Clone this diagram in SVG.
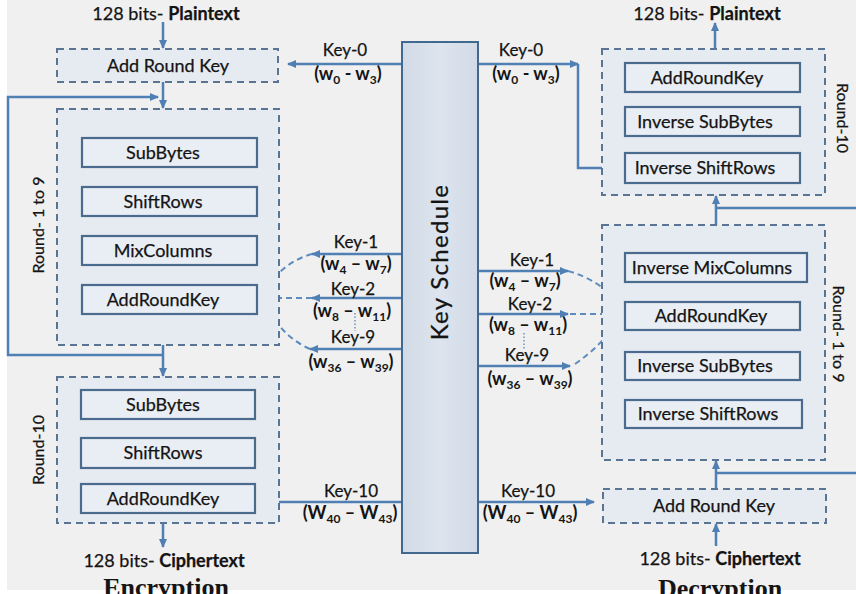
<svg xmlns="http://www.w3.org/2000/svg" width="856" height="594" viewBox="0 0 856 594">
<style>
.dbox{fill:#e6ebf1;stroke:#5a7493;stroke-width:2;stroke-dasharray:7 5}
.ibox{fill:#e9eef4;stroke:#4a6b8e;stroke-width:2.2}
.ln{stroke:#4f7fb3;stroke-width:2.5;fill:none}
.dl{stroke:#5d8bbd;stroke-width:2;stroke-dasharray:6 4;fill:none}
.dot{stroke:#6f93bb;stroke-width:1.5;stroke-dasharray:1.5 2;fill:none}
text{font-family:Lato,"Open Sans","Liberation Sans",sans-serif;fill:#141414;stroke:#141414;stroke-width:0.25}
.t{font-size:18px;text-anchor:middle}
.k{font-size:17px;text-anchor:middle}
.kw{font-size:18px;font-weight:bold;text-anchor:middle;stroke-width:0}
.sb{font-size:12px}
.b{font-weight:bold}
.r{font-size:16px;text-anchor:middle}
.cap{font-family:"Liberation Serif","Times New Roman",serif;font-size:26px;font-weight:bold;text-anchor:middle;stroke-width:0}
</style>
<defs>
<marker id="a" markerUnits="userSpaceOnUse" markerWidth="9" markerHeight="9" refX="8" refY="4.5" orient="auto"><path d="M0,0.5 L9,4.5 L0,8.5 z" fill="#4f7fb3"/></marker>
<marker id="ad" markerUnits="userSpaceOnUse" markerWidth="9" markerHeight="9" refX="8" refY="4.5" orient="auto"><path d="M0,0.5 L9,4.5 L0,8.5 z" fill="#5d8bbd"/></marker>
<linearGradient id="ks" x1="0" x2="1" y1="0" y2="0"><stop offset="0" stop-color="#d1dae6"/><stop offset="0.5" stop-color="#dde4ee"/><stop offset="1" stop-color="#d1dae6"/></linearGradient>
</defs>
<rect x="0" y="0" width="856" height="594" fill="#ffffff"/>
<rect x="7" y="0" width="849" height="590" fill="#f0f0f0"/>

<g id="connectors">
<line class="ln" x1="163" y1="22" x2="163" y2="48" marker-end="url(#a)"/>
<line class="ln" x1="163" y1="82" x2="163" y2="108" marker-end="url(#a)"/>
<polyline class="ln" points="163,355 8,355 8,97 158,97" marker-end="url(#a)"/>
<line class="ln" x1="163" y1="167" x2="163" y2="186" marker-end="url(#a)"/>
<line class="ln" x1="163" y1="216" x2="163" y2="235" marker-end="url(#a)"/>
<line class="ln" x1="163" y1="265" x2="163" y2="284" marker-end="url(#a)"/>
<line class="ln" x1="163" y1="345" x2="163" y2="376" marker-end="url(#a)"/>
<line class="ln" x1="163" y1="419" x2="163" y2="437" marker-end="url(#a)"/>
<line class="ln" x1="163" y1="468" x2="163" y2="483" marker-end="url(#a)"/>
<line class="ln" x1="163" y1="523" x2="163" y2="547" marker-end="url(#a)"/>

<line class="ln" x1="402" y1="64" x2="288" y2="64" marker-end="url(#a)"/>
<line class="ln" x1="402" y1="254" x2="312" y2="254" marker-end="url(#a)"/>
<path class="dl" d="M312,254 Q283,262 265,290" marker-end="url(#ad)"/>
<line class="ln" x1="402" y1="298" x2="312" y2="298" marker-end="url(#a)"/>
<path class="dl" d="M312,298 L265,298" marker-end="url(#ad)"/>
<line class="dot" x1="355" y1="313" x2="355" y2="331"/>
<line class="ln" x1="402" y1="349" x2="310" y2="349" marker-end="url(#a)"/>
<path class="dl" d="M310,349 Q281,336 268,307" marker-end="url(#ad)"/>
<line class="ln" x1="402" y1="502" x2="262" y2="502" marker-end="url(#a)"/>

<line class="ln" x1="478" y1="64" x2="578" y2="64" marker-end="url(#a)"/>
<polyline class="ln" points="578,64 578,168 618,168" marker-end="url(#a)"/>
<line class="ln" x1="478" y1="271" x2="568" y2="271" marker-end="url(#a)"/>
<path class="dl" d="M568,271 Q600,280 618,303" marker-end="url(#ad)"/>
<line class="ln" x1="478" y1="314" x2="568" y2="314" marker-end="url(#a)"/>
<path class="dl" d="M570,314 L618,314" marker-end="url(#ad)"/>
<line class="dot" x1="524" y1="333" x2="524" y2="349"/>
<line class="ln" x1="478" y1="366" x2="570" y2="366" marker-end="url(#a)"/>
<path class="dl" d="M575,364 Q601,346 618,321" marker-end="url(#ad)"/>
<line class="ln" x1="478" y1="502" x2="594" y2="502" marker-end="url(#a)"/>

<line class="ln" x1="715" y1="49" x2="715" y2="23" marker-end="url(#a)"/>
<line class="ln" x1="716" y1="107" x2="716" y2="93" marker-end="url(#a)"/>
<line class="ln" x1="716" y1="153" x2="716" y2="137" marker-end="url(#a)"/>
<line class="ln" x1="716" y1="225" x2="716" y2="196" marker-end="url(#a)"/>
<line class="ln" x1="716" y1="208" x2="856" y2="208"/>
<line class="ln" x1="717" y1="302" x2="717" y2="283" marker-end="url(#a)"/>
<line class="ln" x1="717" y1="352" x2="717" y2="331" marker-end="url(#a)"/>
<line class="ln" x1="717" y1="400" x2="717" y2="381" marker-end="url(#a)"/>
<line class="ln" x1="716" y1="489" x2="716" y2="461" marker-end="url(#a)"/>
<line class="ln" x1="716" y1="473" x2="856" y2="473"/>
<line class="ln" x1="716" y1="546" x2="716" y2="524" marker-end="url(#a)"/>
</g>

<g id="enc-labels">
<text class="t" x="166" y="20">128 bits- <tspan class="b">Plaintext</tspan></text>
<text class="t" x="164" y="567">128 bits- <tspan class="b">Ciphertext</tspan></text>
<text class="cap" x="166" y="596">Encryption</text>
</g>

<g id="enc-ark0">
<rect class="dbox" x="57" y="49" width="221" height="33"/>
<text class="t" x="168" y="72">Add Round Key</text>
</g>

<g id="enc-round1-9">
<rect class="dbox" x="57" y="109" width="222" height="236"/>
<text class="r" transform="translate(44,225) rotate(-90)">Round- 1 to 9</text>
</g>
<g id="enc-subbytes1"><rect class="ibox" x="82" y="138" width="175" height="29"/><text class="t" x="163" y="159">SubBytes</text></g>
<g id="enc-shiftrows1"><rect class="ibox" x="82" y="187" width="175" height="29"/><text class="t" x="163" y="208">ShiftRows</text></g>
<g id="enc-mixcolumns"><rect class="ibox" x="82" y="236" width="175" height="29"/><text class="t" x="163" y="257">MixColumns</text></g>
<g id="enc-addroundkey1"><rect class="ibox" x="82" y="285" width="175" height="29"/><text class="t" x="163" y="306">AddRoundKey</text></g>

<g id="enc-round10">
<rect class="dbox" x="57" y="377" width="222" height="146"/>
<text class="r" transform="translate(44,450) rotate(-90)">Round-10</text>
</g>
<g id="enc-subbytes10"><rect class="ibox" x="81" y="390" width="174" height="29"/><text class="t" x="163" y="411">SubBytes</text></g>
<g id="enc-shiftrows10"><rect class="ibox" x="81" y="438" width="174" height="30"/><text class="t" x="163" y="459">ShiftRows</text></g>
<g id="enc-addroundkey10"><rect class="ibox" x="81" y="484" width="174" height="29"/><text class="t" x="163" y="505">AddRoundKey</text></g>

<g id="key-schedule">
<rect x="402" y="42" width="76" height="511" fill="url(#ks)" stroke="#41688f" stroke-width="2"/>
<text transform="translate(448,262) rotate(-90)" font-size="24" text-anchor="middle" letter-spacing="1.3" style="font-family:Lato,'Open Sans',sans-serif">Key  Schedule</text>
</g>

<g id="key-labels-left">
<text class="k" x="345" y="56">Key-0</text>
<text class="kw" x="348" y="80">(w<tspan class="sb" dy="4">0</tspan><tspan dy="-4"> - w</tspan><tspan class="sb" dy="4">3</tspan><tspan dy="-4">)</tspan></text>
<text class="k" x="356" y="248">Key-1</text>
<text class="kw" x="356" y="270">(w<tspan class="sb" dy="4">4</tspan><tspan dy="-4"> – w</tspan><tspan class="sb" dy="4">7</tspan><tspan dy="-4">)</tspan></text>
<text class="k" x="353" y="295">Key-2</text>
<text class="kw" x="352" y="317">(w<tspan class="sb" dy="4">8</tspan><tspan dy="-4"> – w</tspan><tspan class="sb" dy="4">11</tspan><tspan dy="-4">)</tspan></text>
<text class="k" x="353" y="343">Key-9</text>
<text class="kw" x="351" y="368">(w<tspan class="sb" dy="4">36</tspan><tspan dy="-4"> – w</tspan><tspan class="sb" dy="4">39</tspan><tspan dy="-4">)</tspan></text>
<text class="k" x="351" y="497">Key-10</text>
<text class="kw" x="350" y="519">(W<tspan class="sb" dy="4">40</tspan><tspan dy="-4"> – W</tspan><tspan class="sb" dy="4">43</tspan><tspan dy="-4">)</tspan></text>
</g>

<g id="key-labels-right">
<text class="k" x="521" y="56">Key-0</text>
<text class="kw" x="526" y="80">(w<tspan class="sb" dy="4">0</tspan><tspan dy="-4"> - w</tspan><tspan class="sb" dy="4">3</tspan><tspan dy="-4">)</tspan></text>
<text class="k" x="532" y="266">Key-1</text>
<text class="kw" x="525" y="287">(w<tspan class="sb" dy="4">4</tspan><tspan dy="-4"> – w</tspan><tspan class="sb" dy="4">7</tspan><tspan dy="-4">)</tspan></text>
<text class="k" x="530" y="310">Key-2</text>
<text class="kw" x="528" y="331">(w<tspan class="sb" dy="4">8</tspan><tspan dy="-4"> – w</tspan><tspan class="sb" dy="4">11</tspan><tspan dy="-4">)</tspan></text>
<text class="k" x="527" y="361">Key-9</text>
<text class="kw" x="530" y="385">(w<tspan class="sb" dy="4">36</tspan><tspan dy="-4"> – w</tspan><tspan class="sb" dy="4">39</tspan><tspan dy="-4">)</tspan></text>
<text class="k" x="528" y="497">Key-10</text>
<text class="kw" x="530" y="519">(W<tspan class="sb" dy="4">40</tspan><tspan dy="-4"> – W</tspan><tspan class="sb" dy="4">43</tspan><tspan dy="-4">)</tspan></text>
</g>

<g id="dec-labels">
<text class="t" x="707" y="20">128 bits- <tspan class="b">Plaintext</tspan></text>
<text class="t" x="720" y="565">128 bits- <tspan class="b">Ciphertext</tspan></text>
<text class="cap" x="720" y="597">Decryption</text>
</g>

<g id="dec-round10">
<rect class="dbox" x="602" y="49" width="223" height="146"/>
<text class="r" transform="translate(837,118) rotate(90)">Round-10</text>
</g>
<g id="dec-addroundkey10"><rect class="ibox" x="625" y="63" width="175" height="29"/><text class="t" x="707" y="84">AddRoundKey</text></g>
<g id="dec-invsubbytes10"><rect class="ibox" x="625" y="107" width="175" height="29"/><text class="t" x="705" y="128">Inverse SubBytes</text></g>
<g id="dec-invshiftrows10"><rect class="ibox" x="625" y="153" width="175" height="30"/><text class="t" x="705" y="174">Inverse ShiftRows</text></g>

<g id="dec-round1-9">
<rect class="dbox" x="602" y="225" width="223" height="235"/>
<text class="r" transform="translate(833,334) rotate(90)">Round- 1 to 9</text>
</g>
<g id="dec-invmixcolumns"><rect class="ibox" x="625" y="253" width="182" height="29"/><text class="t" x="712" y="274">Inverse MixColumns</text></g>
<g id="dec-addroundkey1"><rect class="ibox" x="625" y="302" width="175" height="28"/><text class="t" x="711" y="322">AddRoundKey</text></g>
<g id="dec-invsubbytes1"><rect class="ibox" x="625" y="352" width="175" height="28"/><text class="t" x="705" y="372">Inverse SubBytes</text></g>
<g id="dec-invshiftrows1"><rect class="ibox" x="625" y="400" width="177" height="28"/><text class="t" x="708" y="420">Inverse ShiftRows</text></g>

<g id="dec-ark0">
<rect class="dbox" x="603" y="489" width="223" height="34"/>
<text class="t" x="714" y="512">Add Round Key</text>
</g>
</svg>
